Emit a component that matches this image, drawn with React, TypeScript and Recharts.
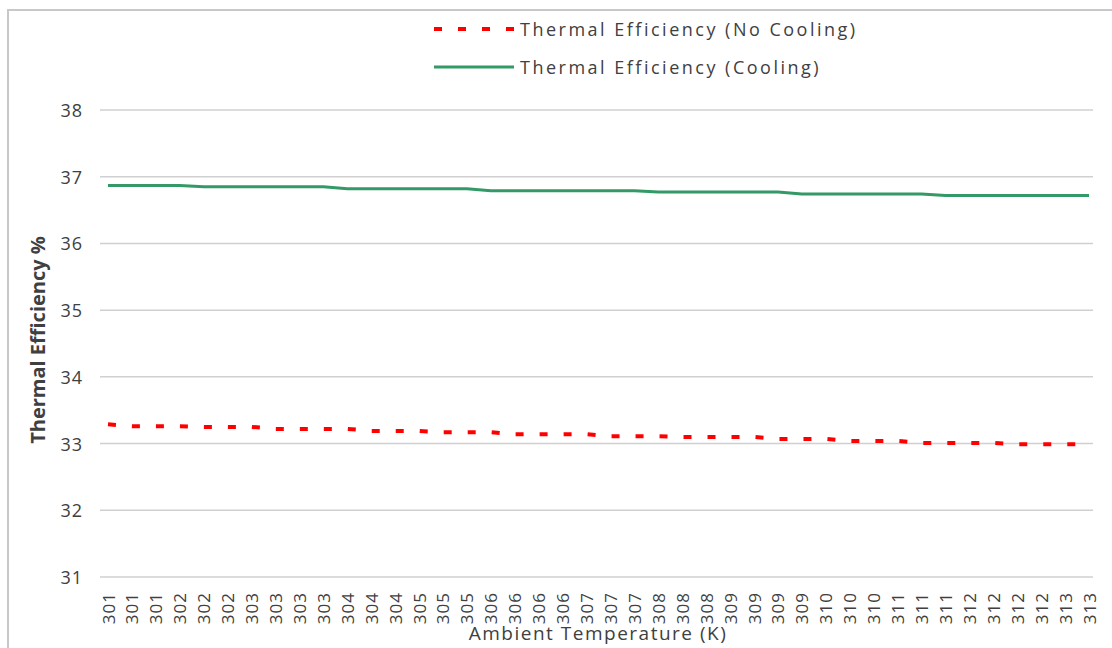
import React from 'react';
import { LineChart, Line, XAxis, YAxis, CartesianGrid } from 'recharts';

const categories: string[] = [
  '301', '301', '301', '302', '302', '302', '303', '303', '303', '303',
  '304', '304', '304', '305', '305', '305', '306', '306', '306', '306',
  '307', '307', '307', '308', '308', '308', '309', '309', '309', '309',
  '310', '310', '310', '311', '311', '311', '312', '312', '312', '312',
  '313', '313',
];

const noCooling: number[] = [
  33.29, 33.26, 33.26, 33.26, 33.25, 33.25, 33.25, 33.22, 33.22, 33.22,
  33.22, 33.19, 33.19, 33.19, 33.17, 33.17, 33.17, 33.14, 33.14, 33.14,
  33.14, 33.11, 33.11, 33.11, 33.1, 33.1, 33.1, 33.1, 33.07, 33.07,
  33.07, 33.04, 33.04, 33.04, 33.01, 33.01, 33.01, 33.01, 32.99, 32.99,
  32.99, 32.99,
];

const cooling: number[] = [
  36.87, 36.87, 36.87, 36.87, 36.85, 36.85, 36.85, 36.85, 36.85, 36.85,
  36.82, 36.82, 36.82, 36.82, 36.82, 36.82, 36.79, 36.79, 36.79, 36.79,
  36.79, 36.79, 36.79, 36.77, 36.77, 36.77, 36.77, 36.77, 36.77, 36.74,
  36.74, 36.74, 36.74, 36.74, 36.74, 36.72, 36.72, 36.72, 36.72, 36.72,
  36.72, 36.72,
];

const yTicks: number[] = [31, 32, 33, 34, 35, 36, 37, 38];

const seriesNames = ['Thermal Efficiency (No Cooling)', 'Thermal Efficiency (Cooling)'];
const xTitle = 'Ambient Temperature (K)';
const yTitle = 'Thermal Efficiency %';

const RED = '#ff0000';
const GREEN = '#339966';
const TEXT = '#404040';
const GRID = '#d0d0d0';
const FONT = '"Open Sans", "DejaVu Sans", sans-serif';

const data = categories.map((c, i) => ({
  idx: i,
  temp: c,
  noCooling: noCooling[i],
  cooling: cooling[i],
}));

const XTick = (props: any) => {
  const { x, y, payload } = props;
  return (
    <text
      transform={`translate(${x},${y + 13}) rotate(-90)`}
      textAnchor="end"
      dominantBaseline="central"
      fill={TEXT}
      fontSize={17}
      letterSpacing={1}
      fontFamily={FONT}
    >
      {categories[payload.value]}
    </text>
  );
};

const YTick = (props: any) => {
  const { y, payload } = props;
  return (
    <text
      x={83}
      y={y}
      textAnchor="end"
      dominantBaseline="central"
      fill={TEXT}
      fontSize={18}
      letterSpacing={1}
      fontFamily={FONT}
    >
      {payload.value}
    </text>
  );
};

export default function App() {
  return (
    <div style={{ position: 'relative', width: 1112, height: 648, overflow: 'hidden', background: '#fff' }}>
      <style>{`body{margin:0;overflow:hidden;}`}</style>
      <div
        style={{
          position: 'absolute',
          left: 7,
          top: 9,
          width: 2000,
          height: 2000,
          border: '2px solid #c8c8c8',
        }}
      />
      <div style={{ position: 'absolute', left: 0, top: 0 }}>
        <LineChart
          width={1112}
          height={648}
          data={data}
          margin={{ top: 110, right: 19, bottom: 11, left: 0 }}
        >
          <CartesianGrid vertical={false} stroke={GRID} strokeWidth={1.5} />
          <XAxis
            dataKey="idx"
            type="category"
            interval={0}
            tick={<XTick />}
            tickLine={false}
            axisLine={false}
            tickSize={0}
            height={60}
            padding={{ left: 8, right: 4 }}
          />
          <YAxis
            domain={[31, 38]}
            ticks={yTicks}
            tick={<YTick />}
            tickLine={false}
            axisLine={false}
            width={100}
            allowDataOverflow
          />
          <Line
            type="linear"
            dataKey="noCooling"
            stroke={RED}
            strokeWidth={4}
            strokeDasharray="8 16"
            dot={false}
            activeDot={false}
            isAnimationActive={false}
          />
          <Line
            type="linear"
            dataKey="cooling"
            stroke={GREEN}
            strokeWidth={3}
            dot={false}
            activeDot={false}
            isAnimationActive={false}
          />
          <text
            transform="translate(37,340) rotate(-90)"
            textAnchor="middle"
            dominantBaseline="central"
            fill={TEXT}
            fontSize={20}
            fontWeight="bold"
            fontFamily={FONT}
          >
            {yTitle}
          </text>
          <text
            x={598}
            y={633}
            textAnchor="middle"
            dominantBaseline="central"
            fill={TEXT}
            fontSize={19}
            letterSpacing={1.5}
            fontFamily={FONT}
          >
            {xTitle}
          </text>
        </LineChart>
      </div>
      <div style={{ position: 'absolute', left: 0, top: 0, width: 1112, height: 90, pointerEvents: 'none' }}>
        <svg width={1112} height={90} style={{ position: 'absolute', left: 0, top: 0 }}>
          <line x1={434} y1={29} x2={514} y2={29} stroke={RED} strokeWidth={4} strokeDasharray="8 16" />
          <line x1={434} y1={67} x2={514} y2={67} stroke={GREEN} strokeWidth={3} />
          <text x={520} y={29} dominantBaseline="central" fill={TEXT} fontSize={18} letterSpacing={2.5} fontFamily={FONT}>
            {seriesNames[0]}
          </text>
          <text x={520} y={67} dominantBaseline="central" fill={TEXT} fontSize={18} letterSpacing={2.5} fontFamily={FONT}>
            {seriesNames[1]}
          </text>
        </svg>
      </div>
    </div>
  );
}
